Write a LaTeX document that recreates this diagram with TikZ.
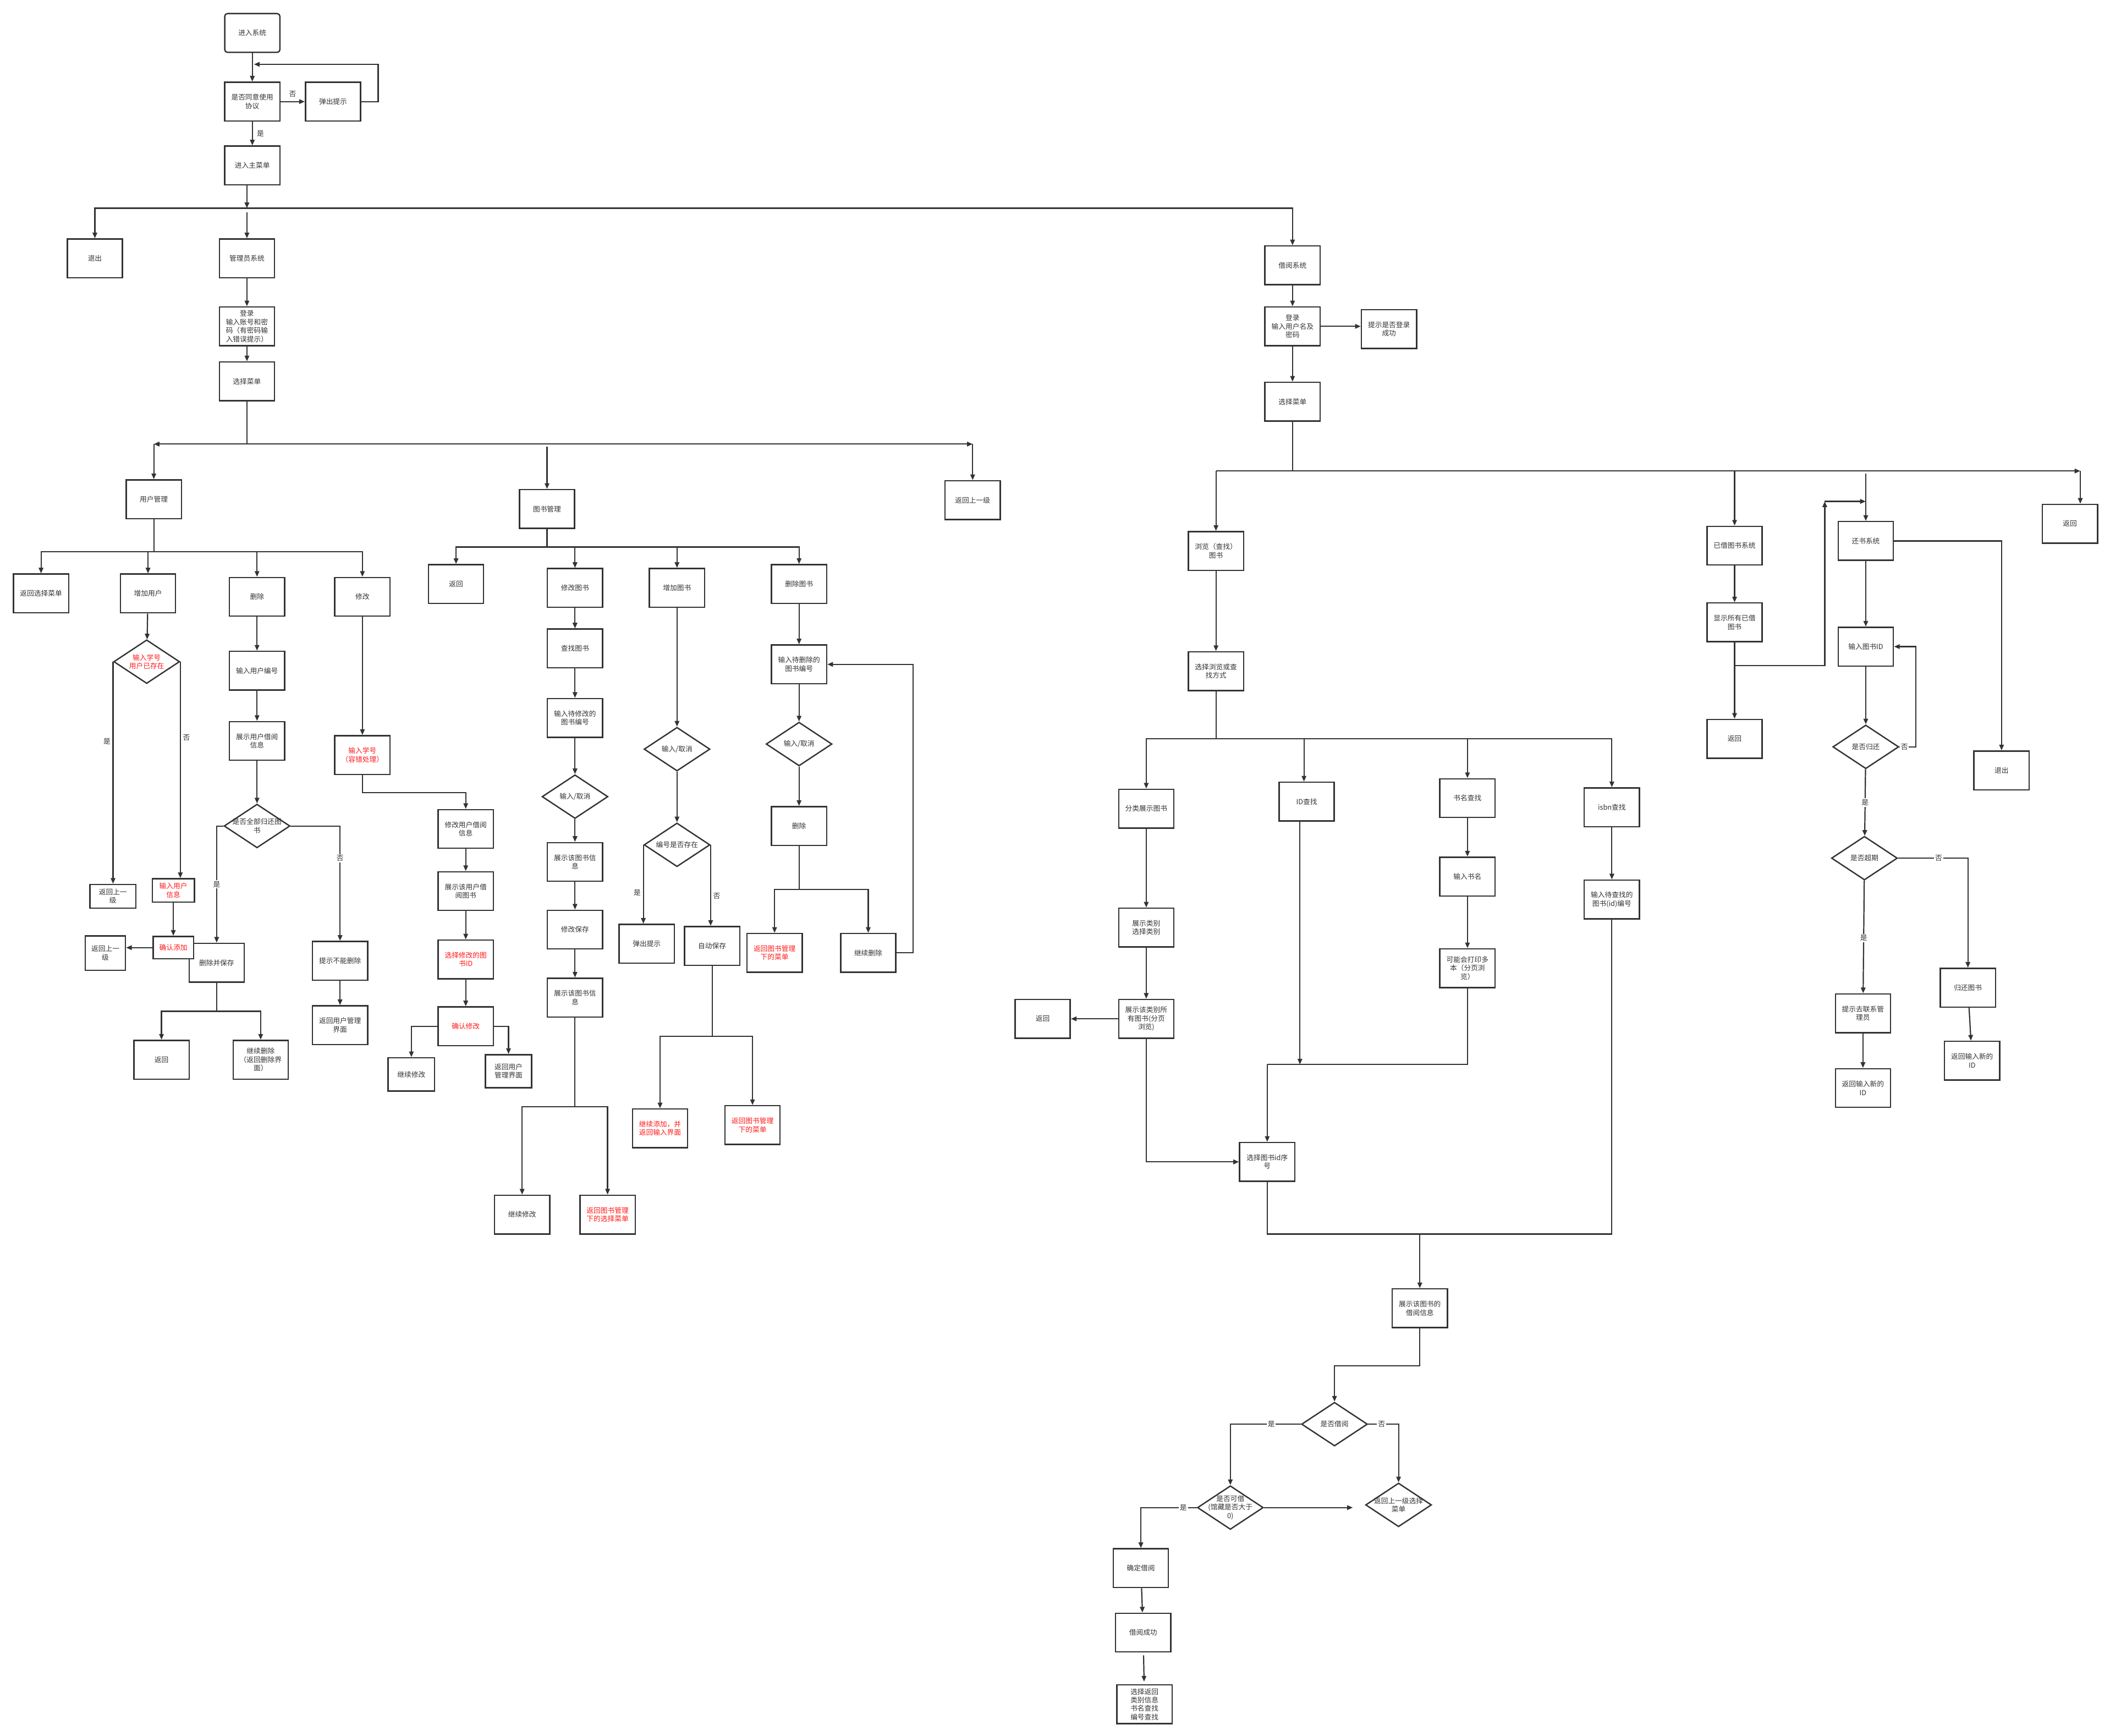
\documentclass[tikz,border=0pt]{standalone}
\usepackage{fontspec}
\usepackage{tikz}
\usetikzlibrary{shapes.geometric, arrows.meta, positioning, calc}
\newfontfamily\cjk{Noto Sans CJK SC}
\definecolor{linegray}{HTML}{333333}
\definecolor{textgray}{HTML}{333333}
\definecolor{alertred}{HTML}{FF1A1A}
\tikzset{
    box/.style={draw=linegray, line width=1pt, fill=white, align=center, text=textgray, font={\cjk\fontsize{5.2}{6.3}\selectfont}, minimum width=41pt, minimum height=28.8pt, inner sep=1pt},
    startbox/.style={box, rounded corners=2pt},
    redbox/.style={box, text=alertred},
    decision/.style={diamond, aspect=1.5, draw=linegray, line width=1pt, fill=white, align=center, text=textgray, font={\cjk\fontsize{5.2}{6.3}\selectfont}, minimum width=49pt, minimum height=32.5pt, inner sep=-3pt},
    reddecision/.style={decision, text=alertred},
    arr/.style={-{Triangle[length=4.2pt, width=3.4pt]}, line width=0.9pt, draw=linegray},
    ln/.style={line width=0.9pt, draw=linegray},
    tag/.style={font={\cjk\fontsize{5.2}{6.3}\selectfont}, text=textgray, inner sep=1.5pt},
    ontag/.style={tag, fill=white, inner sep=0.8pt}
}

\begin{document}
\begin{tikzpicture}[x=1pt, y=-1pt]
        \fill[white] (0,0) rectangle (1568,1290);
        \useasboundingbox (0,0) rectangle (1568,1290);

        % entry
        \node[startbox] (start) at (187.5,24.5) {进入系统};
        \node[box] (agree) at (187.5,75.5) {是否同意使用\\协议};
        \node[box] (popup) at (247.5,75.5) {弹出提示};
        \node[box] (mainmenu) at (187.5,123) {进入主菜单};
        \node[box] (quit) at (70.5,192) {退出};
        \node[box] (adminsys) at (183.5,192) {管理员系统};
        \node[box] (adminlogin) at (183.5,242.5) {登录\\输入账号和密\\码（有密码输\\入错误提示）};
        \node[box] (adminmenu) at (183.5,283.4) {选择菜单};
        \coordinate (loopin) at (188.7,47.8);
        \coordinate (jmain) at (183.5,154.7);

        \draw[arr] (start) -- (agree);
        \draw[arr] (agree) -- node[tag, above=1.5pt] {否} (popup);
        \draw[arr] (popup.east) -- ++(12.5,0) |- (loopin);
        \draw[arr] (agree) -- node[tag, right=1.5pt] {是} (mainmenu);
        \draw[arr] (mainmenu.south -| jmain) -- (jmain);
        \draw[arr] (jmain) -| (quit);
        \draw[arr] ([yshift=-3pt]jmain) -- (adminsys);
        \draw[arr] (adminsys) -- (adminlogin);
        \draw[arr] (adminlogin) -- (adminmenu);

        % admin menu
        \node[box] (usermgr) at (114.3,371) {用户管理};
        \node[box] (bookmgr) at (406.5,378.2) {图书管理};
        \node[box] (adminback) at (722.8,371.7) {返回上一级};
        \coordinate (jadmin) at (183.5,330);
        \coordinate (jaleft) at (114.3,330);
        \coordinate (jaright) at (722.8,330);
        \draw[ln] (adminmenu) -- (jadmin);
        \draw[arr] (jadmin) -- (jaleft);
        \draw[arr] (jadmin) -- (jaright);
        \draw[arr] (jaleft) -- (usermgr);
        \draw[arr] (jaright) -- (adminback);
        \draw[arr] ([yshift=-2pt]bookmgr |- jadmin) -- (bookmgr);

        % user management
        \node[box] (backsel) at (30.5,441) {返回选择菜单};
        \node[box] (adduser) at (110,441) {增加用户};
        \node[box] (deluser) at (191,443.5) {删除};
        \node[box] (moduser) at (269.3,443.5) {修改};
        \node[reddecision] (existq) at (109,491.7) {输入学号\\用户已存在};
        \node[box, minimum width=34.2pt, minimum height=17.6pt] (backup1) at (83.9,666) {返回上一\\级};
        \node[redbox, minimum width=31.3pt, minimum height=17.4pt] (inputinfo) at (128.8,661.7) {输入用户\\信息};
        \node[box, minimum width=29.8pt, minimum height=25.5pt] (backup2) at (78.3,708.3) {返回上一\\级};
        \node[box] (delsave) at (161,715.4) {删除并保存};
        \node[redbox, minimum width=30pt, minimum height=16.6pt] (confirmadd) at (128.8,704.2) {确认添加};
        \node[box] (inputid) at (191,498.4) {输入用户编号};
        \node[box] (showborrow) at (191,550.6) {展示用户借阅\\信息};
        \node[decision] (allreturned) at (191,613.8) {是否全部归还图\\书};
        \node[box] (cannotdel) at (252.7,714) {提示不能删除};
        \node[box] (backusermgr) at (252.7,761.8) {返回用户管理\\界面};
        \node[box] (backu) at (120,787.5) {返回};
        \node[box] (contdel) at (193.7,787.5) {继续删除\\（返回删除界\\面）};
        \node[redbox] (inputstu) at (269.3,561.1) {输入学号\\（容错处理）};
        \coordinate (juser) at (114.3,410);
        \coordinate (jdel) at (161,751.5);

        \draw[ln] (usermgr) -- (juser);
        \draw[arr] (juser) -| (backsel);
        \draw[arr] (juser) -| (moduser);
        \draw[arr] (juser -| adduser) -- (adduser);
        \draw[arr] (juser -| deluser) -- (deluser);
        \draw[arr] (adduser) -- (existq);
        \draw[arr] (existq.west) -- node[tag, left, pos=0.36] {是} (existq.west |- backup1.north);
        \draw[arr] (existq.east) -- node[tag, right, pos=0.35] {否} (existq.east |- inputinfo.north);
        \draw[arr] (inputinfo) -- (confirmadd);
        \draw[arr] (confirmadd.west) -- (confirmadd.west -| backup2.east);
        \draw[arr] (deluser) -- (inputid);
        \draw[arr] (inputid) -- (showborrow);
        \draw[arr] (showborrow) -- (allreturned);
        \draw[arr] (allreturned.west) -| node[ontag, pos=0.75] {是} (delsave);
        \draw[arr] (allreturned.east) -| node[ontag, pos=0.64] {否} (cannotdel);
        \draw[arr] (cannotdel) -- (backusermgr);
        \draw[ln] (delsave) -- (jdel);
        \draw[arr] (jdel) -| (backu);
        \draw[arr] (jdel) -| (contdel);
        \draw[arr] (moduser) -- (inputstu);

        % modify borrow info
        \node[box] (modborrow) at (346.1,616) {修改用户借阅\\信息};
        \node[box] (showuserbook) at (346.1,662.2) {展示该用户借\\阅图书};
        \node[redbox] (selbookid) at (346.1,713) {选择修改的图\\书ID};
        \node[redbox] (confirmmod) at (346.1,762.7) {确认修改};
        \node[box, minimum width=34.5pt, minimum height=24.7pt] (contmodu) at (305.7,798.4) {继续修改};
        \node[box, minimum width=34.2pt, minimum height=24.6pt] (backusermgr2) at (377.9,796) {返回用户\\管理界面};
        \draw[arr] (inputstu.south) -- ++(0,13) -| (modborrow);
        \draw[arr] (modborrow) -- (showuserbook);
        \draw[arr] (showuserbook) -- (selbookid);
        \draw[arr] (selbookid) -- (confirmmod);
        \draw[arr] (confirmmod.west) -| (contmodu);
        \draw[arr] (confirmmod.east) -| (backusermgr2);

        % book management
        \node[box] (bookback) at (338.9,434) {返回};
        \node[box] (modbook) at (427.3,436.9) {修改图书};
        \node[box] (findbook) at (427.3,481.9) {查找图书};
        \node[box] (inputmodid) at (427.3,533.5) {输入待修改的\\图书编号};
        \node[decision] (modchoice) at (427.3,592) {输入/取消};
        \node[box] (showbook1) at (427.3,640.5) {展示该图书信\\息};
        \node[box] (modsave) at (427.3,690.8) {修改保存};
        \node[box] (showbook2) at (427.3,741.3) {展示该图书信\\息};
        \node[box] (contmodb) at (388,902.6) {继续修改};
        \node[redbox] (backbookmenu) at (451.5,902.6) {返回图书管理\\下的选择菜单};
        \node[box] (addbook) at (503.1,436.9) {增加图书};
        \node[decision] (addchoice) at (503.1,556.7) {输入/取消};
        \node[decision] (idexists) at (503.1,627.8) {编号是否存在};
        \node[box] (popup2) at (480.6,701.3) {弹出提示};
        \node[box] (autosave) at (529.2,702.9) {自动保存};
        \node[redbox] (contadd) at (490.5,838.5) {继续添加，并\\返回输入界面};
        \node[redbox] (backbook2) at (559.2,836.1) {返回图书管理\\下的菜单};
        \node[box] (delbook) at (593.8,434) {删除图书};
        \node[box] (inputdelid) at (593.8,493.7) {输入待删除的\\图书编号};
        \node[decision] (delchoice) at (593.8,552.9) {输入/取消};
        \node[box] (dodel) at (593.8,613.8) {删除};
        \node[redbox] (backbook3) at (575.6,708.1) {返回图书管理\\下的菜单};
        \node[box] (contdelb) at (645.2,708.1) {继续删除};
        \coordinate (jbook) at (406.5,406.5);
        \coordinate (jmodb) at (427.3,822.4);
        \coordinate (jadd) at (529.2,770);
        \coordinate (jdelb) at (593.8,660.9);

        \draw[ln] (bookmgr) -- (jbook);
        \draw[arr] (jbook) -| (bookback);
        \draw[arr] (jbook) -| (delbook);
        \draw[arr] (jbook -| modbook) -- (modbook);
        \draw[arr] (jbook -| addbook) -- (addbook);
        \draw[arr] (modbook) -- (findbook);
        \draw[arr] (findbook) -- (inputmodid);
        \draw[arr] (inputmodid) -- (modchoice);
        \draw[arr] (modchoice) -- (showbook1);
        \draw[arr] (showbook1) -- (modsave);
        \draw[arr] (modsave) -- (showbook2);
        \draw[ln] (showbook2) -- (jmodb);
        \draw[arr] (jmodb) -| (contmodb);
        \draw[arr] (jmodb) -| (backbookmenu);
        \draw[arr] (addbook) -- (addchoice);
        \draw[arr] (addchoice) -- (idexists);
        \draw[arr] (idexists.west) -- node[tag, left, pos=0.61] {是} (idexists.west |- popup2.north);
        \draw[arr] (idexists.east) -- node[tag, right, pos=0.63] {否} (idexists.east |- autosave.north);
        \draw[ln] (autosave) -- (jadd);
        \draw[arr] (jadd) -| (contadd);
        \draw[arr] (jadd) -| (backbook2);
        \draw[arr] (delbook) -- (inputdelid);
        \draw[arr] (inputdelid) -- (delchoice);
        \draw[arr] (delchoice) -- (dodel);
        \draw[ln] (dodel) -- (jdelb);
        \draw[arr] (jdelb) -| (backbook3);
        \draw[arr] (jdelb) -| (contdelb);
        \draw[arr] (contdelb.east) -- ++(12.2,0) |- (inputdelid.east);

        % borrow system
        \node[box] (borrowsys) at (960.5,197.2) {借阅系统};
        \node[box] (borrowlogin) at (960.5,242.5) {登录\\输入用户名及\\密码};
        \node[box] (loginhint) at (1032.2,244.5) {提示是否登录\\成功};
        \node[box] (borrowmenu) at (960.5,298.5) {选择菜单};
        \node[box] (browse) at (903.6,409.4) {浏览（查找）\\图书};
        \node[box] (borrowedsys) at (1289,405.5) {已借图书系统};
        \node[box] (returnsys) at (1386.5,402) {还书系统};
        \node[box] (borrowback) at (1538.2,389.2) {返回};
        \coordinate (jborrow) at (960.5,350);
        \coordinate (jbl) at (903.6,350);
        \coordinate (jbr) at (1545.9,350);

        \draw[arr] (jmain) -| (borrowsys);
        \draw[arr] (borrowsys) -- (borrowlogin);
        \draw[arr] (borrowlogin.east) -- (borrowlogin.east -| loginhint.west);
        \draw[arr] (borrowlogin) -- (borrowmenu);
        \draw[ln] (borrowmenu) -- (jborrow);
        \draw[ln] (jborrow) -- (jbl);
        \draw[arr] (jbl) -- (browse);
        \draw[arr] (jborrow) -- (jbr);
        \draw[arr] (jbr) -- (jbr |- borrowback.north);
        \draw[arr] (borrowedsys |- jborrow) -- (borrowedsys);
        \draw[arr] ([yshift=-2pt]returnsys |- jborrow) -- (returnsys);

        % browse and search
        \node[box] (choosemode) at (903.6,498.7) {选择浏览或查\\找方式};
        \node[box] (catshow) at (851.8,600.9) {分类展示图书};
        \node[box] (idfind) at (971,595.7) {ID查找};
        \node[box] (namefind) at (1090.5,593.1) {书名查找};
        \node[box] (isbnfind) at (1197.8,599.9) {isbn查找};
        \node[box] (showcat) at (851.8,689.3) {展示类别\\选择类别};
        \node[box] (showall) at (851.8,757.1) {展示该类别所\\有图书(分页\\浏览)};
        \node[box] (catback) at (774.8,757.1) {返回};
        \node[box] (inputname) at (1090.5,651.4) {输入书名};
        \node[box] (maymany) at (1090.5,719.5) {可能会打印多\\本（分页浏\\览）};
        \node[box] (inputisbn) at (1197.8,668.4) {输入待查找的\\图书(id)编号};
        \node[box] (selid) at (941.7,863.4) {选择图书id序\\号};
        \coordinate (jmode) at (903.6,549);
        \coordinate (jfind) at (941.7,791);
        \coordinate (jinfo) at (1055.1,917);

        \draw[arr] (browse) -- (choosemode);
        \draw[ln] (choosemode) -- (jmode);
        \draw[arr] (jmode) -| (catshow);
        \draw[arr] (jmode) -| (isbnfind);
        \draw[arr] ([xshift=-2pt]jmode -| idfind) -- ([xshift=-2pt]idfind.north);
        \draw[arr] (jmode -| namefind) -- (namefind);
        \draw[arr] (catshow) -- (showcat);
        \draw[arr] (showcat) -- (showall);
        \draw[arr] (showall) -- (catback);
        \draw[arr] (namefind) -- (inputname);
        \draw[arr] (inputname) -- (maymany);
        \draw[arr] (isbnfind) -- (inputisbn);
        \draw[arr] ([xshift=-5pt]idfind.south) -- ([xshift=-5pt]idfind.south |- jfind);
        \draw[ln] (maymany) |- (jfind);
        \draw[arr] (jfind) -- (selid);
        \draw[arr] (showall) |- (selid);

        % borrowing
        \node[box] (bookinfo) at (1055.1,972.2) {展示该图书的\\借阅信息};
        \node[decision] (borrowq) at (991.7,1058.3) {是否借阅};
        \node[decision] (canborrow) at (914.3,1120.3) {是否可借\\(馆藏是否大于\\0)};
        \node[decision] (backmenuq) at (1039.3,1118.3) {返回上一级选择\\菜单};
        \node[box] (confirmb) at (847.8,1165.3) {确定借阅};
        \node[box] (borrowok) at (849.5,1213.2) {借阅成功};
        \node[box] (choosenext) at (850.5,1266.5) {选择返回\\类别信息\\书名查找\\编号查找};

        \draw[ln] (selid) |- (jinfo);
        \draw[ln] (inputisbn) |- (jinfo);
        \draw[arr] (jinfo) -- (bookinfo);
        \draw[arr] (bookinfo.south) -- ++(0,27.7) -| (borrowq);
        \draw[arr] (borrowq.west) -| node[ontag, pos=0.21] {是} (canborrow);
        \draw[arr] (borrowq.east) -| node[ontag, pos=0.22] {否} (backmenuq);
        \draw[arr, shorten >=9pt] (canborrow.east) -- (canborrow.east -| backmenuq.west);
        \draw[arr] (canborrow.west) -| node[ontag, pos=0.12] {是} (confirmb);
        \draw[arr] (confirmb) -- (borrowok);
        \draw[arr, shorten <=2pt, shorten >=2pt] (borrowok) -- (choosenext);

        % borrowed books
        \node[box] (showborrowed) at (1289,462.5) {显示所有已借\\图书};
        \node[box] (borrowedback) at (1289,549) {返回};
        \coordinate (jshow) at (1289,494.5);
        \coordinate (jup) at (1356,372.6);
        \coordinate (jret) at (1386.5,372.6);
        \draw[arr] (borrowedsys) -- (showborrowed);
        \draw[arr] (showborrowed) -- (borrowedback);
        \draw[arr] (jshow) -| (jup);
        \draw[arr] (jup) -- (jret);

        % returning
        \node[box] (inputbookid) at (1386.5,480.5) {输入图书ID};
        \node[decision] (returnedq) at (1386.5,555) {是否归还};
        \node[decision] (overdueq) at (1385.5,637.7) {是否超期};
        \node[box] (contactadmin) at (1384.4,753) {提示去联系管\\理员};
        \node[box] (newida) at (1384.4,808.5) {返回输入新的\\ID};
        \node[box] (returnbook) at (1462.4,734) {归还图书};
        \node[box] (newidb) at (1465.5,788.2) {返回输入新的\\ID};
        \node[box] (returnquit) at (1487.4,572.5) {退出};

        \draw[arr] (returnsys) -- (inputbookid);
        \draw[arr] (inputbookid) -- (returnedq);
        \draw[arr] (returnedq.east) -- node[ontag, pos=0.3] {否} ++(12.2,0) |- (inputbookid.east);
        \draw[arr] (returnedq) -- node[ontag] {是} (overdueq);
        \draw[arr] (overdueq) -- node[ontag, pos=0.51] {是} (contactadmin);
        \draw[arr] (overdueq.east) -| node[ontag, pos=0.29] {否} (returnbook);
        \draw[arr] (contactadmin) -- (newida);
        \draw[arr] (returnbook) -- (newidb);
        \draw[arr] (returnsys.east) -| (returnquit);
      \end{tikzpicture}
\end{document}
